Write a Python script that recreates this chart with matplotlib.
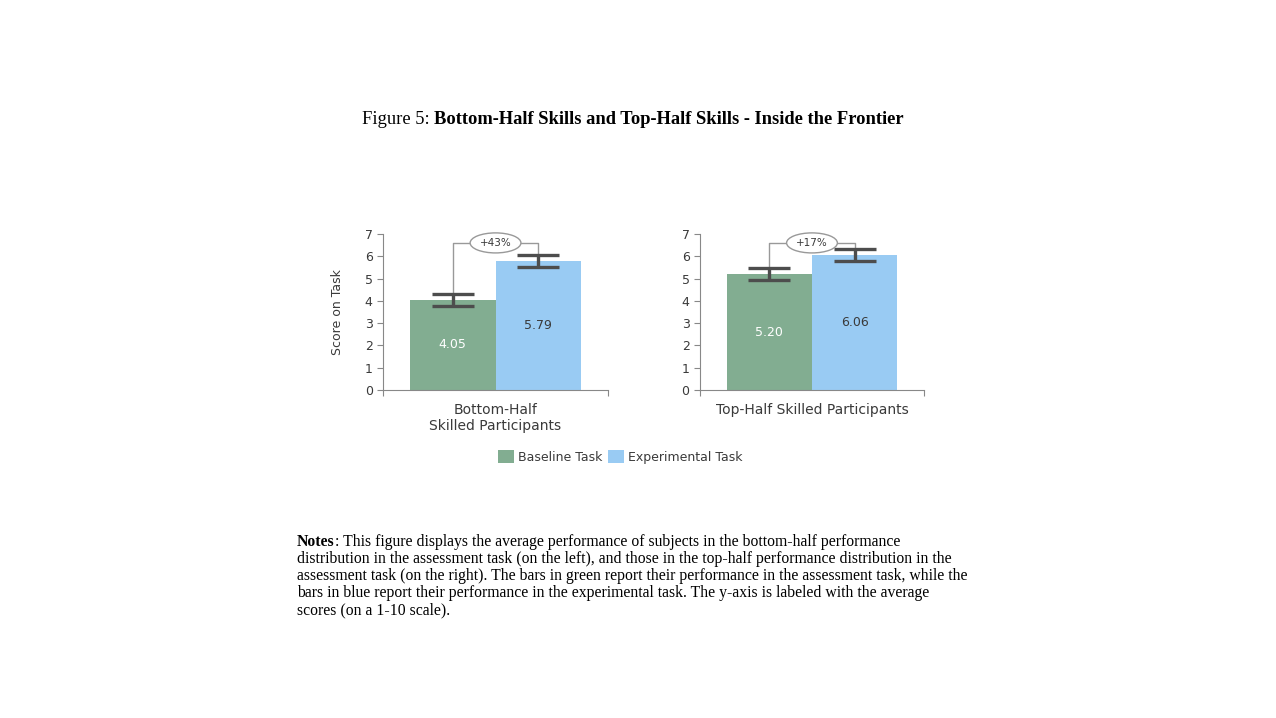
import matplotlib.pyplot as plt
from matplotlib.patches import Patch

groups = ["Bottom-Half\nSkilled Participants", "Top-Half Skilled Participants"]
baseline = [4.05, 5.20]
experimental = [5.79, 6.06]
baseline_err = [0.27, 0.27]
experimental_err = [0.27, 0.27]
gains = ["+43%", "+17%"]
series_names = ["Baseline Task", "Experimental Task"]

GREEN = "#82ad91"
BLUE = "#99cbf3"
DARK = "#4d4d4d"
TXT = "#3a3a3a"

notes_lines = [
    ": This figure displays the average performance of subjects in the bottom-half performance",
    "distribution in the assessment task (on the left), and those in the top-half performance distribution in the",
    "assessment task (on the right). The bars in green report their performance in the assessment task, while the",
    "bars in blue report their performance in the experimental task. The y-axis is labeled with the average",
    "scores (on a 1-10 scale).",
]


def draw_panel(ax, i, show_ylabel):
    xs = [0.31, 0.69]
    w = 0.38
    ax.bar(xs[0], baseline[i], width=w, color=GREEN, zorder=2)
    ax.bar(xs[1], experimental[i], width=w, color=BLUE, zorder=2)
    ax.errorbar(xs, [baseline[i], experimental[i]],
                yerr=[baseline_err[i], experimental_err[i]],
                fmt="none", ecolor=DARK, elinewidth=2.4, capsize=15, capthick=2.4, zorder=4)
    ax.text(xs[0], baseline[i] / 2, f"{baseline[i]:.2f}", ha="center", va="center",
            color="white", fontsize=9)
    ax.text(xs[1], experimental[i] / 2, f"{experimental[i]:.2f}", ha="center", va="center",
            color=TXT, fontsize=9)

    # bracket between the two bars
    top = 6.6
    y0 = baseline[i] + baseline_err[i]
    y1 = experimental[i] + experimental_err[i]
    ax.plot([xs[0], xs[0], xs[1], xs[1]], [y0, top, top, y1], color="#999999", lw=1, zorder=3)
    ax.text(sum(xs) / 2, top, gains[i], ha="center", va="center", fontsize=7.5, color=TXT, zorder=5,
            bbox=dict(boxstyle="ellipse,pad=0.2", fc="white", ec="#999999", lw=1))

    ax.set_xlim(0, 1)
    ax.set_ylim(0, 7)
    ax.set_yticks(range(8))
    ax.set_xticks([0, 1])
    ax.set_xticklabels(["", ""])
    for s in ["top", "right"]:
        ax.spines[s].set_visible(False)
    for s in ["left", "bottom"]:
        ax.spines[s].set_color("#888888")
        ax.spines[s].set_linewidth(0.8)
    ax.tick_params(axis="y", colors="#888888", labelcolor=TXT, labelsize=9, length=4, width=0.8)
    ax.tick_params(axis="x", colors="#888888", length=4, width=0.8)
    ax.set_xlabel(groups[i], fontsize=10, color=TXT, labelpad=2, linespacing=1.15)
    if show_ylabel:
        ax.set_ylabel("Score on Task", fontsize=9, color=TXT, labelpad=15)


fig = plt.figure(figsize=(12.76, 7.18), dpi=100)

ax1 = fig.add_axes([0.3002, 0.4568, 0.1763, 0.2173])
ax2 = fig.add_axes([0.5486, 0.4568, 0.1755, 0.2173])
draw_panel(ax1, 0, True)
draw_panel(ax2, 1, False)

handles = [Patch(facecolor=GREEN, label=series_names[0]), Patch(facecolor=BLUE, label=series_names[1])]
fig.legend(handles=handles, loc="center", bbox_to_anchor=(0.486, 0.364), ncol=2, frameon=False,
           fontsize=9, handlelength=1.3, handleheight=1.3, handletextpad=0.3, columnspacing=0.4,
           labelcolor=TXT)

# title with mixed weights
ty = 0.827
fig.text(0.2837, ty, "Figure 5:", family="Liberation Serif", fontsize=13.3, va="baseline")
fig.text(0.340, ty, "Bottom-Half Skills and Top-Half Skills - Inside the Frontier",
         family="Liberation Serif", fontsize=13.3, fontweight="bold", va="baseline")

# notes
y = 0.2395
fs = 11.3
n = fig.text(0.2327, y, "Notes", family="Liberation Serif", fontsize=fs, fontweight="bold", va="baseline")
fig.canvas.draw()
r = fig.canvas.get_renderer()
bb = n.get_window_extent(r)
fig.text(bb.x1 / fig.bbox.width, y, notes_lines[0], family="Liberation Serif", fontsize=fs, va="baseline")
for k, line in enumerate(notes_lines[1:], start=1):
    fig.text(0.2327, y - k * 17 / 718, line, family="Liberation Serif", fontsize=fs, va="baseline")

fig.savefig("out.png", dpi=100, facecolor="white")
